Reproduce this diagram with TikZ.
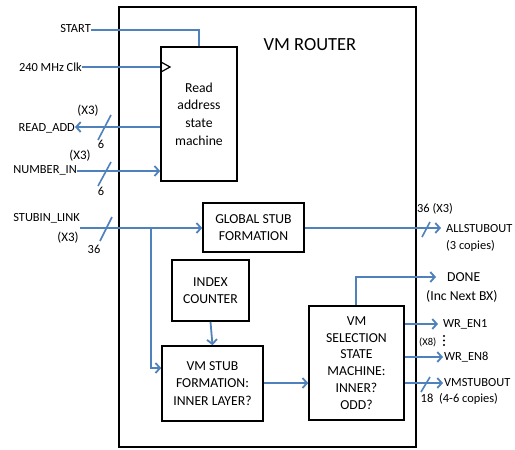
\documentclass[tikz,border=0pt]{standalone}
\usepackage{fontspec}
\setmainfont{Carlito}
\usetikzlibrary{arrows.meta}
\begin{document}
\begin{tikzpicture}[x=1pt,y=-1pt,
  blk/.style={draw=black,line width=1.6pt,fill=white,align=center,font=\fontsize{13.7}{17.6}\selectfont,inner sep=0pt},
  sig/.style={draw=sigblue,line width=1.8pt},
  arr/.style={sig,-{Straight Barb[length=4.5pt,width=10pt,line width=1.8pt]}},
  lbl/.style={font=\fontsize{12.4}{14}\selectfont,inner sep=0pt},
  slash/.style={draw=sigblue,line width=1.6pt}]
\definecolor{sigblue}{HTML}{4F81BD}
\useasboundingbox (0,0) rectangle (515,450);
\fill[white] (0,0) rectangle (515,450);
% outer box
\draw[line width=1.6pt] (119,7) rectangle (416,447);
\node[font=\fontsize{18.5}{20}\selectfont,inner sep=0pt] (title) at (310,45) {VM ROUTER};
% blocks
\node[blk,minimum width=76pt,minimum height=134pt] (ram) at (199,114) {Read\\address\\state\\machine};
\node[blk,minimum width=101pt,minimum height=49pt] (gsf) at (253.5,227.5) {GLOBAL STUB\\FORMATION};
\node[blk,minimum width=77pt,minimum height=61pt] (idx) at (210.5,290.5) {INDEX\\COUNTER};
\node[blk,minimum width=101pt,minimum height=75pt] (vsf) at (212.5,383.5) {VM STUB\\FORMATION:\\INNER LAYER?};
\node[blk,minimum width=95pt,minimum height=114pt,font=\fontsize{13.7}{16.8}\selectfont] (vss) at (356.5,363) {VM\\SELECTION\\STATE\\MACHINE:\\INNER?\\ODD?};
% left labels
\node[lbl,anchor=east] (start) at (91,29) {START};
\node[lbl,anchor=east] (clk) at (82,67) {240 MHz Clk};
\node[lbl,anchor=east] (radd) at (75,128) {READ\_ADD};
\node[lbl,anchor=east] (nin) at (77,170) {NUMBER\_IN};
\node[lbl,anchor=east] (sin) at (80,218) {STUBIN\_LINK};
\node[lbl,font=\fontsize{13}{14}\selectfont] (x3a) at (88,111) {(X3)};
\node[lbl] (sixa) at (101,144) {6};
\node[lbl,font=\fontsize{13}{14}\selectfont] (x3b) at (80,156) {(X3)};
\node[lbl] (sixb) at (101,191) {6};
\node[lbl,font=\fontsize{13}{14}\selectfont] (x3c) at (68,238) {(X3)};
\node[lbl] (n36) at (94,249) {36};
% right labels
\node[lbl,anchor=west] (n36b) at (417,209) {36 (X3)};
\node[lbl,anchor=west] (aso) at (446,229) {ALLSTUBOUT};
\node[lbl,anchor=west] (aso2) at (446,246) {(3 copies)};
\node[lbl,anchor=west,font=\fontsize{13.7}{16}\selectfont] (done) at (447,277) {DONE};
\node[lbl,anchor=west,font=\fontsize{13.7}{16}\selectfont] (done2) at (426,296) {(Inc Next BX)};
\node[lbl,anchor=west] (wr1) at (443,324) {WR\_EN1};
\node[lbl,anchor=west,font=\fontsize{10.5}{12}\selectfont] (x8) at (419,342) {(X8)};
\node[lbl,anchor=west] (wr8) at (444,357) {WR\_EN8};
\node[lbl,anchor=west] (vmo) at (444,383) {VMSTUBOUT};
\node[lbl,anchor=west] (vmo2) at (439,399) {(4-6 copies)};
\node[lbl] (n18) at (427,398) {18};
\fill (444,336) circle (1.2pt) (444,340.5) circle (1.2pt) (444,345) circle (1.2pt);
% coordinates
\coordinate (startEnd) at (199,30);
\coordinate (branch) at (151,228);
\coordinate (doneTurn) at (356,277);
% connectors
\draw[sig] (start.east |- 0,30) -- (startEnd) -- (ram.north -| startEnd);
\draw[sig] (clk.east |- 0,67) -- (ram.west |- 0,67);
\draw[line width=1.2pt] (161,62) -- (170,67) -- (161,72);
\draw[arr] (ram.west |- 0,127) -- (radd.east |- 0,127);
\draw[arr] (nin.east |- 0,171) -- (ram.west |- 0,171);
\draw[arr] (sin.east |- 0,228) -- (gsf.west |- 0,228);
\draw[arr] (branch) -- (151,368) -- (vsf.west |- 0,368);
\draw[arr] (gsf.east |- 0,228) -- (441,228);
\draw[arr] (idx.south) -- (vsf.north);
\draw[arr] (vsf.east |- 0,383) -- (vss.west |- 0,383);
\draw[arr] (vss.north -| doneTurn) -- (doneTurn) -- (436,277);
\draw[arr] (vss.east |- 0,324) -- (438,324);
\draw[arr] (vss.east |- 0,357) -- (443,357);
\draw[arr] (vss.east |- 0,383) -- (443,383);
% bus slashes
\draw[slash] (111,115) -- (98,140);
\draw[slash] (111,162) -- (98,186);
\draw[slash] (112,217) -- (100,241);
\draw[slash] (430,222) -- (422,237);
\draw[slash] (430,377) -- (421,392);
\end{tikzpicture}
\end{document}
